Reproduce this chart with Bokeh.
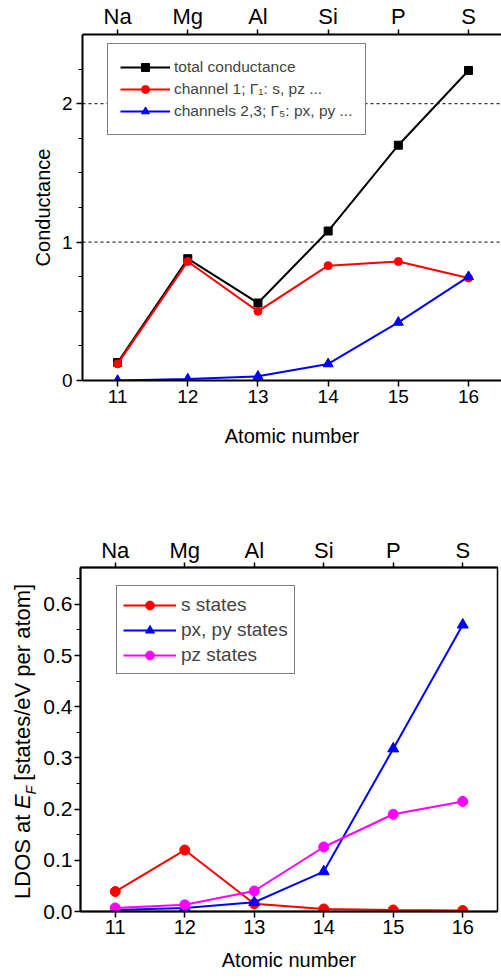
import math
from bokeh.plotting import figure
from bokeh.models import Range1d, LinearAxis, FixedTicker, Span, Legend, LegendItem, Label
from bokeh.layouts import column, row
from bokeh.embed import file_html
from bokeh.resources import INLINE

# ---------------- data ----------------
atomic_numbers = [11, 12, 13, 14, 15, 16]
elements = ["Na", "Mg", "Al", "Si", "P", "S"]

total_conductance = [0.13, 0.88, 0.56, 1.08, 1.70, 2.24]
channel1 = [0.12, 0.86, 0.50, 0.83, 0.86, 0.74]
channels23 = [0.00, 0.01, 0.03, 0.12, 0.42, 0.75]

s_states = [0.039, 0.120, 0.015, 0.005, 0.003, 0.002]
pxpy_states = [0.003, 0.007, 0.018, 0.078, 0.318, 0.560]
pz_states = [0.007, 0.013, 0.040, 0.126, 0.190, 0.215]

cond_ticks = [0, 1, 2]
cond_minor = [0.25, 0.5, 0.75, 1.25, 1.5, 1.75, 2.25]
ldos_ticks = [0.0, 0.1, 0.2, 0.3, 0.4, 0.5, 0.6]
ldos_minor = [0.05, 0.15, 0.25, 0.35, 0.45, 0.55, 0.65]

FONT = "Liberation Sans"


def style_axis(ax, label_size, tick_out=6, minor_out=0, standoff=3):
    ax.axis_line_color = "black"
    ax.axis_line_width = 2
    ax.major_tick_line_color = "black"
    ax.major_tick_line_width = 1.5
    ax.major_tick_in = 0
    ax.major_tick_out = tick_out
    ax.minor_tick_line_color = "black"
    ax.minor_tick_line_width = 1.2
    ax.minor_tick_in = 0
    ax.minor_tick_out = minor_out
    ax.major_label_text_font = FONT
    ax.major_label_text_font_size = label_size
    ax.major_label_text_color = "black"
    ax.major_label_standoff = standoff
    ax.axis_label_text_font = FONT
    ax.axis_label_text_font_style = "normal"
    ax.axis_label_text_font_size = "20px"
    ax.axis_label_text_color = "black"


# ---------------- top figure: conductance ----------------
p1 = figure(width=501, height=534, x_range=Range1d(10.5, 16.47), y_range=Range1d(0, 2.5),
            x_axis_type=None, y_axis_type=None, output_backend="svg", toolbar_location=None,
            min_border_left=82, min_border_right=0, min_border_top=33, min_border_bottom=154)
p1.outline_line_color = None

xb1 = LinearAxis(ticker=FixedTicker(ticks=atomic_numbers), axis_label="Atomic number")
style_axis(xb1, "19px", standoff=3)
xb1.axis_label_standoff = 19
p1.add_layout(xb1, "below")

xt1 = LinearAxis(ticker=FixedTicker(ticks=atomic_numbers),
                 major_label_overrides={n: e for n, e in zip(atomic_numbers, elements)})
style_axis(xt1, "22px", tick_out=5, standoff=1)
p1.add_layout(xt1, "above")

yl1 = LinearAxis(ticker=FixedTicker(ticks=cond_ticks, minor_ticks=cond_minor), axis_label="Conductance")
style_axis(yl1, "19px", minor_out=4, standoff=4)
yl1.axis_label_standoff = 5
p1.add_layout(yl1, "left")

for lvl in cond_ticks[1:]:
    p1.add_layout(Span(location=lvl, dimension="width", line_color="black",
                       line_width=1, line_dash="3 3"))

r_tot_l = p1.line(atomic_numbers, total_conductance, line_color="black", line_width=2)
r_tot_m = p1.scatter(atomic_numbers, total_conductance, marker="square", size=8, color="black")
r_c1_l = p1.line(atomic_numbers, channel1, line_color="#ff0000", line_width=2)
r_c1_m = p1.scatter(atomic_numbers, channel1, marker="circle", size=8, color="#ff0000")
r_c23_l = p1.line(atomic_numbers, channels23, line_color="#0000ff", line_width=2)
r_c23_m = p1.scatter(atomic_numbers, channels23, marker="triangle", size=10, color="#0000ff")

leg1 = Legend(items=[
    LegendItem(label="total conductance", renderers=[r_tot_l, r_tot_m]),
    LegendItem(label="channel 1; \u0393\u2081: s, pz ...", renderers=[r_c1_l, r_c1_m]),
    LegendItem(label="channels 2,3; \u0393\u2085: px, py ...", renderers=[r_c23_l, r_c23_m]),
], location=(25, 245))
leg1.border_line_color = "black"
leg1.border_line_width = 1
leg1.background_fill_color = "white"
leg1.background_fill_alpha = 1
leg1.label_text_font = FONT
leg1.label_text_font_size = "15.5px"
leg1.glyph_width = 50
leg1.glyph_height = 20
leg1.label_height = 22
leg1.spacing = 0
leg1.padding = 12
leg1.label_standoff = 4
leg1.margin = 0
p1.add_layout(leg1)

# ---------------- bottom figure: LDOS ----------------
BOTTOM_H = 445
LAB_W = 40
B_TOP, B_BOTTOM = 30, 68
FRAME_H = BOTTOM_H - B_TOP - B_BOTTOM

p2 = figure(width=501 - LAB_W, height=BOTTOM_H, x_range=Range1d(10.5, 16.5), y_range=Range1d(0, 0.672),
            x_axis_type=None, y_axis_type=None, output_backend="svg", toolbar_location=None,
            min_border_left=80 - LAB_W, min_border_right=4, min_border_top=B_TOP, min_border_bottom=B_BOTTOM)
p2.outline_line_color = "black"
p2.outline_line_width = 1.5

xb2 = LinearAxis(ticker=FixedTicker(ticks=atomic_numbers), axis_label="Atomic number")
style_axis(xb2, "20px", standoff=2)
xb2.axis_label_standoff = 12
p2.add_layout(xb2, "below")

xt2 = LinearAxis(ticker=FixedTicker(ticks=atomic_numbers),
                 major_label_overrides={n: e for n, e in zip(atomic_numbers, elements)})
style_axis(xt2, "22px", tick_out=5, standoff=0)
p2.add_layout(xt2, "above")

yl2 = LinearAxis(ticker=FixedTicker(ticks=ldos_ticks, minor_ticks=ldos_minor),
                 major_label_overrides={t: f"{t:.1f}" for t in ldos_ticks})
style_axis(yl2, "21px", minor_out=4, standoff=2)
p2.add_layout(yl2, "left")

r_s_l = p2.line(atomic_numbers, s_states, line_color="#ff0000", line_width=2)
r_s_m = p2.scatter(atomic_numbers, s_states, marker="circle", size=10, color="#ff0000")
r_p_l = p2.line(atomic_numbers, pxpy_states, line_color="#0000ff", line_width=2)
r_p_m = p2.scatter(atomic_numbers, pxpy_states, marker="triangle", size=11, color="#0000ff")
r_z_l = p2.line(atomic_numbers, pz_states, line_color="#ff00ff", line_width=2)
r_z_m = p2.scatter(atomic_numbers, pz_states, marker="circle", size=10, color="#ff00ff")

leg2 = Legend(items=[
    LegendItem(label="s states", renderers=[r_s_l, r_s_m]),
    LegendItem(label="px, py states", renderers=[r_p_l, r_p_m]),
    LegendItem(label="pz states", renderers=[r_z_l, r_z_m]),
], location=(36, 237))
leg2.border_line_color = "black"
leg2.border_line_width = 1
leg2.background_fill_color = "white"
leg2.background_fill_alpha = 1
leg2.label_text_font = FONT
leg2.label_text_font_size = "19px"
leg2.glyph_width = 53
leg2.glyph_height = 22
leg2.label_height = 25
leg2.spacing = 0
leg2.padding = 6
leg2.label_standoff = 5
leg2.margin = 0
p2.add_layout(leg2)

# narrow strip carrying the y-axis title "LDOS at E_F [states/eV per atom]".
# Its frame is aligned with p2's frame, so its y range is measured in pixels from p2's frame bottom.
lab_fig = figure(width=LAB_W, height=BOTTOM_H, x_range=Range1d(0, LAB_W), y_range=Range1d(0, FRAME_H),
                 x_axis_type=None, y_axis_type=None, output_backend="svg", toolbar_location=None,
                 min_border=0, min_border_left=0, min_border_right=0,
                 min_border_top=B_TOP, min_border_bottom=B_BOTTOM)
lab_fig.outline_line_color = None

lab_kw = dict(x_units="data", y_units="data", angle=math.pi / 2,
              text_font=FONT, text_color="black", text_baseline="middle", text_align="center")
fs = 22
cx = 22          # horizontal centre of the main text
y0 = 13          # start of the text (pixels above the frame bottom)
w_ldos = 3.835 * fs
w_sp = 0.278 * fs
w_e = 0.667 * fs
w_f = 0.611 * 14
w_rest = 8.949 * fs
y_e = y0 + w_ldos + w_sp
y_f = y_e + w_e
y_r = y_f + w_f + w_sp
lab_fig.add_layout(Label(x=cx, y=y0 + w_ldos / 2, text="LDOS at", text_font_size=f"{fs}px", **lab_kw))
lab_fig.add_layout(Label(x=cx, y=y_e + w_e / 2, text="E", text_font_size=f"{fs}px",
                         text_font_style="italic", **lab_kw))
lab_fig.add_layout(Label(x=cx + 8, y=y_f + w_f / 2, text="F", text_font_size="14px",
                         text_font_style="italic", **lab_kw))
lab_fig.add_layout(Label(x=cx, y=y_r + w_rest / 2, text="[states/eV per atom]",
                         text_font_size=f"{fs}px", **lab_kw))

layout = column(p1, row(lab_fig, p2, spacing=0), spacing=0)
open("out.html", "w").write(file_html(layout, INLINE))
